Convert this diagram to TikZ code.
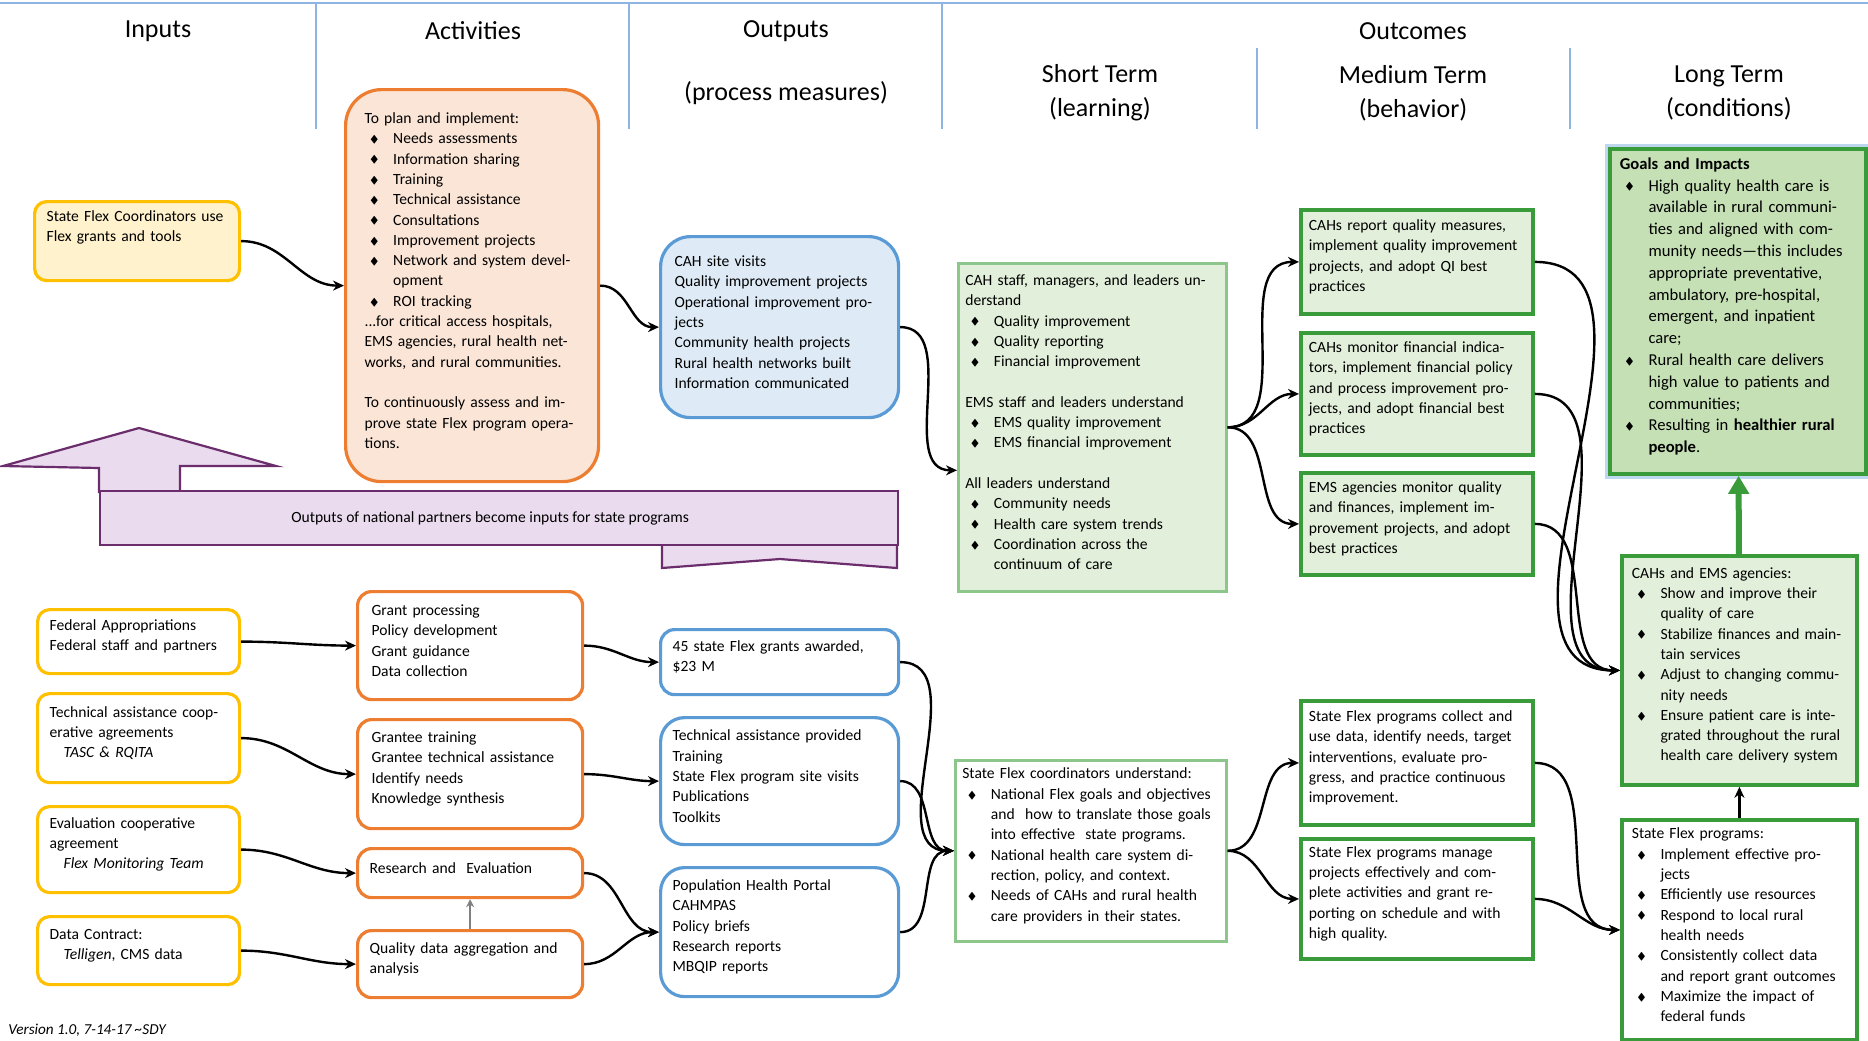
\documentclass[tikz,border=0pt]{standalone}
\usepackage{fontspec}
\setmainfont{Carlito}
\usepackage{amssymb}
\usetikzlibrary{arrows.meta,positioning,calc}

\definecolor{inyellow}{HTML}{FFC000}
\definecolor{inyellowfill}{HTML}{FFF2CC}
\definecolor{actorange}{HTML}{ED7D31}
\definecolor{actfill}{HTML}{FBE5D6}
\definecolor{outblue}{HTML}{5B9BD5}
\definecolor{outfill}{HTML}{DEEBF7}
\definecolor{shortgreen}{HTML}{8CC68A}
\definecolor{greenfill}{HTML}{E2EFDA}
\definecolor{darkgreen}{HTML}{3A9B3A}
\definecolor{goalfill}{HTML}{C5E0B4}
\definecolor{glowblue}{HTML}{BDD7EE}
\definecolor{natline}{HTML}{6B2D6B}
\definecolor{natfill}{HTML}{EBDBEF}
\definecolor{headblue}{HTML}{8EB4E3}

\newcommand{\bul}{\makebox[14.3pt][l]{\hspace{2.5pt}\raisebox{0.6pt}{\tiny$\blacklozenge$}}}
\newcommand{\ind}{\hspace*{14.3pt}}
\newcommand{\liftby}[1]{\par\vspace*{#1}}

\begin{document}
\begin{tikzpicture}[x=0.5pt,y=-0.5pt,
  every node/.style={font=\fontsize{7.8}{10.15}\selectfont},
  lift/.style={execute at end node={\liftby{#1}}},
  box/.style={draw,line width=1.6pt,anchor=north west,align=left,inner ysep=0pt,lift=5pt,fill=white},
  inbox/.style={box,draw=inyellow,rounded corners=6pt,inner xsep=6pt},
  actbox/.style={box,draw=actorange,rounded corners=7pt,inner xsep=7pt},
  outbox/.style={box,draw=outblue,rounded corners=9pt,inner xsep=6pt},
  stbox/.style={box,draw=shortgreen,line width=1.3pt,inner xsep=3.5pt},
  mtbox/.style={box,draw=darkgreen,line width=1.9pt,inner xsep=4pt,fill=greenfill},
  head/.style={font=\fontsize{13}{17}\selectfont,align=center},
  natshape/.style={draw=natline,fill=natfill,line width=1.1pt},
  flow/.style={-{Stealth[length=5.5pt,width=5pt]},line width=1.2pt},
  auto]
  \useasboundingbox (0,0) rectangle (1868,1040);

  % column heads
  \draw[headblue,line width=1pt] (0,3) -- (1868,3);
  \draw[headblue,line width=0.6pt] (316,3) -- (316,129) (629,3) -- (629,129) (942,3) -- (942,129)
     (1257,48) -- (1257,129) (1570,48) -- (1570,129);
  \node [head] (h_in) at (158,31) {Inputs};
  \node [head] (h_act) at (473,31) {Activities};
  \node [head] (h_out) at (786,31) {Outputs};
  \node [head] (h_pm) at (786,93) {(process measures)};
  \node [head] (h_oc) at (1413,31) {Outcomes};
  \node [head] (h_st) at (1100,93) {Short Term\\(learning)};
  \node [head] (h_mt) at (1413,93) {Medium Term\\(behavior)};
  \node [head] (h_lt) at (1729,93) {Long Term\\(conditions)};

  % national partners arrow
  \draw[natshape] (99,468) -- (3,466) -- (139,428) -- (276,466) -- (180,466) -- (180,492) -- (99,492) -- cycle;
  \draw[natshape] (662,544) -- (897,544) -- (897,568) -- (780,559) -- (662,568) -- cycle;
  \node [natshape,anchor=north west,minimum width=399pt,minimum height=27pt] (natbar) at (99,490)
     {Outputs of national partners become inputs for state programs\hspace*{9pt}};

  % state level
  \node [inbox,fill=inyellowfill,lift=9pt,text width=90.5pt,minimum height=39.5pt] (a1) at (33,200)
     {State Flex Coordinators use\\Flex grants and tools};
  \node [actbox,fill=actfill,rounded corners=18pt,inner xsep=9.5pt,text width=107.5pt,minimum height=196pt] (bigact) at (344,88)
     {To plan and implement:\\
      \bul Needs assessments\\
      \bul Information sharing\\
      \bul Training\\
      \bul Technical assistance\\
      \bul Consultations\\
      \bul Improvement projects\\
      \bul Network and system devel-\\
      \ind opment\\
      \bul ROI tracking\\
      ...for critical access hospitals,\\
      EMS agencies, rural health net-\\
      works, and rural communities.\\[10.15pt]
      To continuously assess and im-\\
      prove state Flex program opera-\\
      tions.};
  \node [outbox,fill=outfill,rounded corners=15pt,inner xsep=7pt,text width=105pt,minimum height=90.5pt] (cahvisit) at (659,235)
     {CAH site visits\\
      Quality improvement projects\\
      Operational improvement pro-\\
      jects\\
      Community health projects\\
      Rural health networks built\\
      Information communicated};
  \node [stbox,fill=greenfill,text width=127pt,minimum height=164pt] (cahstaff) at (957,262)
     {CAH staff, managers, and leaders un-\\
      derstand\\
      \bul Quality improvement\\
      \bul Quality reporting\\
      \bul Financial improvement\\[10.15pt]
      EMS staff and leaders understand\\
      \bul EMS quality improvement\\
      \bul EMS financial improvement\\[10.15pt]
      All leaders understand\\
      \bul Community needs\\
      \bul Health care system trends\\
      \bul Coordination across the\\
      \ind continuum of care};
  \node [mtbox,text width=108pt,minimum height=52pt] (cahqual) at (1299,208)
     {CAHs report quality measures,\\
      implement quality improvement\\
      projects, and adopt QI best\\
      practices};
  \node [mtbox,text width=108pt,minimum height=61pt] (cahfin) at (1299,331)
     {CAHs monitor financial indica-\\
      tors, implement financial policy\\
      and process improvement pro-\\
      jects, and adopt financial best\\
      practices};
  \node [mtbox,text width=108pt,minimum height=51pt] (emsmon) at (1299,471)
     {EMS agencies monitor quality\\
      and finances, implement im-\\
      provement projects, and adopt\\
      best practices};
  \node [mtbox,fill=goalfill,preaction={draw=glowblue,line width=5pt},inner xsep=5pt,text width=118pt,minimum height=162.5pt,
         font=\fontsize{8.3}{10.9}\selectfont] (goals) at (1608,147)
     {\textbf{Goals and Impacts}\\
      \bul High quality health care is\\
      \ind available in rural communi-\\
      \ind ties and aligned with com-\\
      \ind munity needs---this includes\\
      \ind appropriate preventative,\\
      \ind ambulatory, pre-hospital,\\
      \ind emergent, and inpatient\\
      \ind care;\\
      \bul Rural health care delivers\\
      \ind high value to patients and\\
      \ind communities;\\
      \bul Resulting in \textbf{healthier rural}\\
      \ind \textbf{people}.};
  \node [mtbox,inner xsep=5pt,text width=107.5pt,minimum height=114.5pt] (cahems) at (1620,554)
     {CAHs and EMS agencies:\\
      \bul Show and improve their\\
      \ind quality of care\\
      \bul Stabilize finances and main-\\
      \ind tain services\\
      \bul Adjust to changing commu-\\
      \ind nity needs\\
      \bul Ensure patient care is inte-\\
      \ind grated throughout the rural\\
      \ind health care delivery system};

  % national level
  \node [inbox,text width=89pt,minimum height=32pt] (fedapp) at (36,608)
     {Federal Appropriations\\Federal staff and partners};
  \node [inbox,text width=89pt,minimum height=44.5pt] (tacoop) at (36,692)
     {Technical assistance coop-\\erative agreements\\\hspace*{7pt}\textit{TASC \& RQITA}};
  \node [inbox,text width=89pt,minimum height=43pt] (evalcoop) at (36,805)
     {Evaluation cooperative\\agreement\\\hspace*{7pt}\textit{Flex Monitoring Team}};
  \node [inbox,text width=89pt,minimum height=34pt] (datacon) at (36,915)
     {Data Contract:\\\hspace*{7pt}\textit{Telligen}, CMS data};
  \node [actbox,text width=98.5pt,minimum height=54pt] (grantproc) at (356,590)
     {Grant processing\\Policy development\\Grant guidance\\Data collection};
  \node [actbox,text width=98.5pt,minimum height=54.5pt] (granttrain) at (356,718)
     {Grantee training\\Grantee technical assistance\\Identify needs\\Knowledge synthesis};
  \node [actbox,inner xsep=6pt,text width=100.5pt,minimum height=24.5pt] (research) at (356,847)
     {Research and\ \ Evaluation};
  \node [actbox,inner xsep=6pt,text width=100.5pt,minimum height=33.5pt] (qualdata) at (356,929)
     {Quality data aggregation and\\analysis};
  \node [outbox,rounded corners=7pt,text width=107pt,minimum height=32.5pt] (grants45) at (659,628)
     {45 state Flex grants awarded,\\\$23 M};
  \node [outbox,rounded corners=12pt,text width=107pt,minimum height=63.5pt] (taprov) at (659,716)
     {Technical assistance provided\\Training\\State Flex program site visits\\Publications\\Toolkits};
  \node [outbox,rounded corners=12pt,text width=107pt,minimum height=64.5pt] (pophealth) at (659,866)
     {Population Health Portal\\CAHMPAS\\Policy briefs\\Research reports\\MBQIP reports};
  \node [stbox,text width=128.5pt,minimum height=90.5pt] (flexcoord) at (954,759)
     {State Flex coordinators understand:\\
      \bul National Flex goals and objectives\\
      \ind and\ \ how to translate those goals\\
      \ind into effective\ \ state programs.\\
      \bul National health care system di-\\
      \ind rection, policy, and context.\\
      \bul Needs of CAHs and rural health\\
      \ind care providers in their states.};
  \node [mtbox,fill=white,text width=108pt,minimum height=62pt] (flexdata) at (1299,699)
     {State Flex programs collect and\\
      use data, identify needs, target\\
      interventions, evaluate pro-\\
      gress, and practice continuous\\
      improvement.};
  \node [mtbox,fill=white,text width=108pt,minimum height=60pt] (flexmgmt) at (1299,837)
     {State Flex programs manage\\
      projects effectively and com-\\
      plete activities and grant re-\\
      porting on schedule and with\\
      high quality.};
  \node [mtbox,fill=white,inner xsep=5pt,text width=107.5pt,minimum height=110pt] (flexprog) at (1620,818)
     {State Flex programs:\\
      \bul Implement effective pro-\\
      \ind jects\\
      \bul Efficiently use resources\\
      \bul Respond to local rural\\
      \ind health needs\\
      \bul Consistently collect data\\
      \ind and report grant outcomes\\
      \bul Maximize the impact of\\
      \ind federal funds};

  \node [anchor=north west,inner sep=0pt,font=\fontsize{7.6}{8}\selectfont\itshape] (version) at (8,1024)
     {Version 1.0, 7-14-17 \textasciitilde SDY};

  % connectors
  \path[flow]
  (a1) edge[out=0,in=180] (bigact)
  (bigact) edge[out=0,in=180] (cahvisit)
  (cahvisit) edge[out=0,in=180] ([yshift=-21.5pt]cahstaff.west)
  (cahstaff) edge[out=0,in=180] (cahqual)
  (cahstaff) edge[out=0,in=180] (cahfin)
  (cahstaff) edge[out=0,in=180] (emsmon)
  (cahqual) edge[out=0,in=180] (cahems)
  (cahfin) edge[out=0,in=180] (cahems)
  (emsmon) edge[out=0,in=180] (cahems)
  (fedapp) edge[out=0,in=180] (grantproc)
  (tacoop) edge[out=0,in=180] (granttrain)
  (evalcoop) edge[out=0,in=180] (research)
  (datacon) edge[out=0,in=180] (qualdata)
  (grantproc) edge[out=0,in=180] (grants45)
  (granttrain) edge[out=0,in=180] (taprov)
  (research) edge[out=0,in=180] (pophealth)
  (qualdata) edge[out=0,in=180] (pophealth)
  (grants45) edge[out=0,in=180] (flexcoord)
  (taprov) edge[out=0,in=180] (flexcoord)
  (pophealth) edge[out=0,in=180] (flexcoord)
  (flexcoord) edge[out=0,in=180] (flexdata)
  (flexcoord) edge[out=0,in=180] (flexmgmt)
  (flexdata) edge[out=0,in=180] (flexprog)
  (flexmgmt) edge[out=0,in=180] (flexprog)
  (flexprog) edge (cahems);
  \draw[-{Stealth[length=4pt,width=4pt]},gray,line width=0.8pt] (qualdata) -- (research);
  \draw[-{Triangle[length=9pt,width=10pt]},darkgreen,line width=3pt] (cahems) -- (goals);
\end{tikzpicture}
\end{document}
